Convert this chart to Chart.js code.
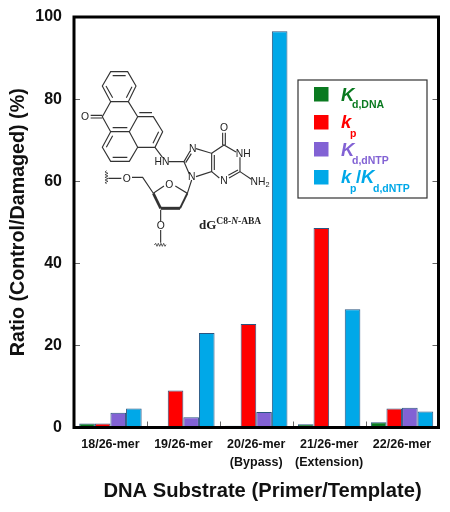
<!DOCTYPE html>
<html><head><meta charset="utf-8">
<style>
html,body{margin:0;padding:0;background:#fff;width:450px;height:512px;overflow:hidden}
#wrap{position:relative;width:450px;height:512px}
canvas{position:absolute;left:0;top:0}
svg{position:absolute;left:0;top:0;pointer-events:none}
</style>
<script src="https://cdn.jsdelivr.net/npm/chart.js@4"></script>
</head><body>
<div id="wrap">
<canvas id="c" width="450" height="512"></canvas>
<svg width="450" height="512" viewBox="0 0 450 512">
<g transform="translate(70,60) scale(0.3333)" fill="none" stroke="#333" stroke-width="3.4">
<path d="M122 35L173 35L198 78L175 125L122 125L97 78Z"/>
<path d="M128 47L167 47M186 80L169 113M128 113L108 78"/>
<path d="M122 125L97 170L122 215L178 215L203 170L175 125"/>
<path d="M122 215L97 262L122 304L178 304L203 262L178 215"/>
<path d="M128 227L109 262M128 292L172 292M128 203L172 203"/>
<path d="M203 170L250 170L278 215L255 262L203 262"/>
<path d="M208 158L246 158M266 215L249 250"/>
<path d="M97 166L62 166M97 174L62 174"/>
<path d="M255 262L278 293M296 305L342 305L360 274M347 308L364 281"/>
<path d="M378 266L425 280L425 335L378 350M433 285L433 330M342 305L358 342"/>
<path d="M425 280L462 255L498 276M458 255L458 218M466 255L466 218"/>
<path d="M510 292L510 335L477 354M504 330L475 346M448 354L425 335"/>
<path d="M510 335L544 358"/>
<path d="M365 360L352 400L316 378M282 378L250 400L218 352L186 352M154 355L115 355"/>
<path d="M110 332l-5 4l9 4l-9 4l9 4l-9 4l9 4l-9 4l9 4l-9 4l5 3" stroke-width="2.4"/>
<path d="M272 450L272 484M272 510L272 548"/>
<path d="M253 555l4 -5l4 9l4 -9l4 9l4 -9l4 9l4 -9l4 9l3 -5" stroke-width="2.4"/>
<path d="M272 445L330 445" stroke-width="9"/>
<path d="M330 445L352 400" stroke-width="6"/>
<path d="M250 400L272 445" stroke-width="8"/>
</g>
<g transform="translate(70,60) scale(0.3333)" font-family="Liberation Sans" font-size="31" fill="#222" text-anchor="middle">
<text x="45" y="181">O</text><text x="368" y="275">N</text><text x="462" y="214">O</text>
<text x="276" y="316">HN</text><text x="520" y="292">NH</text><text x="365" y="360">N</text>
<text x="462" y="372">N</text><text x="570" y="376">NH<tspan font-size="22" dy="6">2</tspan></text>
<text x="298" y="384">O</text><text x="170" y="366">O</text><text x="272" y="507">O</text>
</g>
<text x="199" y="229" font-family="Liberation Serif" font-weight="bold" font-size="13" fill="#222">dG<tspan font-size="9.5" dy="-5">C8-<tspan font-style="italic">N</tspan>-ABA</tspan></text>
</svg>
</div>
<script>
const categories=[["18/26-mer"],["19/26-mer"],["20/26-mer","(Bypass)"],["21/26-mer","(Extension)"],["22/26-mer"]];
const kdDna=[1.0,0.2,0.4,0.8,1.3];
const kp=[1.0,9.0,25.2,48.6,4.6];
const kdDntp=[3.6,2.5,3.8,0.3,4.8];
const kpKd=[4.6,23.0,96.5,28.8,3.9];
const yTicks=[0,20,40,60,80,100];
const green='#0a7a20',red='#ff0000',purple='#8262d4',blue='#00a8e8';
const legendRows=[
 {color:green,top:87,parts:[['K',341,14,'i'],['d,DNA',352,21,'s']]},
 {color:red,top:115,parts:[['k',341,13,'i'],['p',350,22,'s']]},
 {color:purple,top:142,parts:[['K',341,14,'i'],['d,dNTP',352,22,'s']]},
 {color:blue,top:170,parts:[['k',341,13,'i'],['p',350,22,'s'],['/',356,13,'b'],['K',361,13,'i'],['d,dNTP',373,22,'s']]}
];
const legendFonts={i:'italic bold 18.5px',b:'bold 18.5px',s:'bold 10.5px'};
const decor={id:'decor',
 afterDraw(ch){
  const c=ch.ctx,a=ch.chartArea,x=ch.scales.x,y=ch.scales.y;
  c.save();
  c.strokeStyle='#666';c.lineWidth=1;c.beginPath();
  yTicks.slice(1,-1).forEach(v=>{const p=Math.round(y.getPixelForValue(v))+.5;
    c.moveTo(a.left,p);c.lineTo(a.left+6,p);c.moveTo(a.right,p);c.lineTo(a.right-6,p);});
  for(let i=1;i<categories.length;i++){
    const p=Math.round((x.getPixelForValue(i-1)+x.getPixelForValue(i))/2)+.5;
    c.moveTo(p,a.bottom);c.lineTo(p,a.bottom-6);}
  c.stroke();
  c.strokeStyle='#000';c.lineWidth=3;c.strokeRect(a.left,a.top,a.right-a.left,a.bottom-a.top);
  c.fillStyle='#fff';c.fillRect(298,80,129,118);
  c.strokeStyle='#333';c.lineWidth=1.2;c.strokeRect(298,80,129,118);
  legendRows.forEach(r=>{
    c.fillStyle=r.color;c.fillRect(314,r.top,14.5,14.5);
    c.textBaseline='alphabetic';c.textAlign='left';
    r.parts.forEach(([t,px,dy,k])=>{
      c.font=legendFonts[k]+' "Liberation Sans"';
      c.fillText(t,px,r.top+dy);
    });
  });
  c.fillStyle='#111';c.font='bold 20.2px "Liberation Sans"';c.textAlign='center';c.textBaseline='middle';
  c.fillText('DNA Substrate (Primer/Template)',262.5,491);
  c.restore();
 }};
new Chart(document.getElementById('c'),{
 type:'bar',
 data:{labels:categories,datasets:[
  {label:'Kd,DNA',data:kdDna,backgroundColor:green},
  {label:'kp',data:kp,backgroundColor:red},
  {label:'Kd,dNTP',data:kdDntp,backgroundColor:purple},
  {label:'kp/Kd,dNTP',data:kpKd,backgroundColor:blue}
 ].map(d=>Object.assign(d,{borderColor:'#2a5580',borderWidth:{top:1,left:1,right:1,bottom:0},categoryPercentage:.856,barPercentage:1}))},
 options:{responsive:false,animation:false,
  layout:{padding:{top:17,right:11.5,left:0,bottom:0}},
  plugins:{legend:{display:false},tooltip:{enabled:false}},
  scales:{
   x:{grid:{display:false},border:{display:false},
     ticks:{color:'#111',font:{family:'Liberation Sans',weight:'bold',size:12.5,lineHeight:1.45},maxRotation:0,autoSkip:false,padding:0},
     afterFit(s){s.height=84.5;}},
   y:{min:0,max:100,
     afterBuildTicks(s){s.ticks=yTicks.map(v=>({value:v}));},
     grid:{display:false},border:{display:false},
     title:{display:true,text:'Ratio (Control/Damaged) (%)',color:'#111',font:{family:'Liberation Sans',weight:'bold',size:19.7},padding:{top:7,bottom:0}},
     ticks:{color:'#111',font:{family:'Liberation Sans',weight:'bold',size:16},padding:4},
     afterFit(s){s.width=74;}}
  }},
 plugins:[decor]
});
</script>
</body></html>
